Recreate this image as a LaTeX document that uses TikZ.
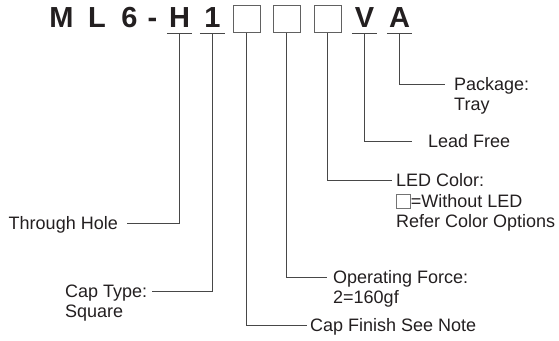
\documentclass[tikz,border=0pt]{standalone}
\usepackage{fontspec}
\setmainfont{Liberation Sans}
\usepackage{xcolor}
\definecolor{ink}{HTML}{231F20}
\tikzset{
  codechar/.style={font=\fontsize{29}{30}\selectfont\bfseries, text=ink, inner sep=0pt,
    minimum width=25pt, text height=21pt, text depth=5pt, anchor=south},
  codebox/.style={draw=black!62, line width=0.9pt, inner sep=0pt, minimum size=27pt, anchor=south},
  codeline/.style={line width=0.8pt, draw=black!72},
  lead/.style={line width=0.8pt, draw=black!72, line cap=butt},
  lbl/.style={font=\fontsize{18}{20}\selectfont, text=ink, inner xsep=5pt, inner ysep=0pt,
    text height=13pt, text depth=0pt},
}
\begin{document}
\begin{tikzpicture}[x=1pt, y=-1pt]
\useasboundingbox (0,0) rectangle (559,340);
% part number
\node[codechar] (cM) at (61.5,33) {M};
\node[codechar] (cL) at (97.0,33) {L};
\node[codechar] (c6) at (129.5,33) {6};
\node[codechar] (cDash) at (152.5,33) {-};
\node[codechar] (cH) at (179.5,33) {H};
\node[codechar] (c1) at (212.5,33) {1};
\node[codebox] (cB1) at (246.5,33) {};
\node[codebox] (cB2) at (286.5,33) {};
\node[codebox] (cB3) at (327.5,33) {};
\node[codechar] (cV) at (364.5,33) {V};
\node[codechar] (cA) at (399.5,33) {A};
\draw[codeline] (cH.south west) -- (cH.south east);
\draw[codeline] (c1.south west) -- (c1.south east);
\draw[codeline] (cV.south west) -- (cV.south east);
\draw[codeline] (cA.south west) -- (cA.south east);
% labels
\node[lbl, anchor=west, inner xsep=9pt] (lbPkg) at (445,84) {Package:};
\node[lbl, anchor=west, inner xsep=9pt] (lbPkgB) at (445,104) {Tray};
\node[lbl, anchor=west, inner xsep=16pt] (lbLead) at (412,141) {Lead Free};
\node[lbl, anchor=west, inner xsep=4pt] (lbLed) at (392,180) {LED Color:};
\node[lbl, anchor=west, inner xsep=4pt] (lbLedB) at (392,201)
  {{\color{black!55}\fboxrule=0.8pt\fboxsep=0pt\fbox{\rule{0pt}{12.5pt}\hspace{13pt}}}=Without LED};
\node[lbl, anchor=west, inner xsep=4pt] (lbLedC) at (392,221) {Refer Color Options};
\node[lbl, anchor=west, inner xsep=6pt] (lbForce) at (327,277) {Operating Force:};
\node[lbl, anchor=west, inner xsep=6pt] (lbForceB) at (327,297) {2=160gf};
\node[lbl, anchor=west, inner xsep=3pt] (lbFinish) at (307,325) {Cap Finish See Note};
\node[lbl, anchor=east, inner xsep=9pt] (lbHole) at (127,223) {Through Hole};
\node[lbl, anchor=west] (lbCap) at (60,291) {Cap Type:};
\node[lbl, anchor=west] (lbCapB) at (60,311) {Square};
% leaders
\draw[lead] (cA.south) |- (lbPkg.west);
\draw[lead] (cV.south) |- (lbLead.west);
\draw[lead] (cB3.south) |- (lbLed.west);
\draw[lead] (cB2.south) |- (lbForce.west);
\draw[lead] (cB1.south) |- (lbFinish.west);
\draw[lead] (cH.south) |- (lbHole.east);
\draw[lead] (c1.south) |- (lbCap.east);
\end{tikzpicture}
\end{document}
